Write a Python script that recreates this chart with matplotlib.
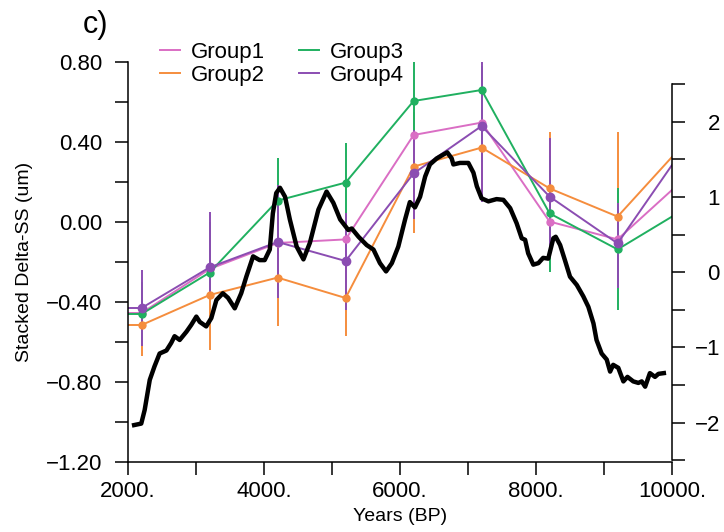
import numpy as np
import matplotlib.pyplot as plt
from matplotlib.ticker import MultipleLocator, FuncFormatter
from matplotlib.lines import Line2D

plt.rcParams['font.family'] = ['Liberation Sans', 'DejaVu Sans']

# group stacks, left axis (um); first and last points lie just outside the x range
grp_years = [1200, 2200, 3200, 4200, 5200, 6200, 7200, 8200, 9200, 10200]
group1 = [-0.455, -0.455, -0.235, -0.105, -0.087, 0.435, 0.497, 0.002, -0.087, 0.222]
group2 = [-0.515, -0.515, -0.365, -0.278, -0.380, 0.277, 0.372, 0.168, 0.027, 0.400]
group3 = [-0.460, -0.460, -0.253, 0.107, 0.197, 0.605, 0.660, 0.043, -0.137, 0.068]
group4 = [-0.430, -0.430, -0.227, -0.100, -0.195, 0.243, 0.480, 0.127, -0.107, 0.383]

# lower / upper ends of the bars
group1_lo = [-0.455, -0.60, -0.36, -0.30, -0.30, 0.10, 0.20, -0.10, -0.25, 0.222]
group1_hi = [-0.455, -0.30, 0.00, 0.10, 0.00, 0.45, 0.75, 0.30, 0.05, 0.222]
group2_lo = [-0.515, -0.67, -0.64, -0.52, -0.57, -0.055, 0.15, -0.10, -0.30, 0.400]
group2_hi = [-0.515, -0.36, -0.09, -0.04, -0.19, 0.55, 0.60, 0.45, 0.45, 0.400]
group3_lo = [-0.460, -0.60, -0.36, -0.10, 0.00, 0.42, 0.30, -0.25, -0.44, 0.068]
group3_hi = [-0.460, -0.30, 0.00, 0.318, 0.393, 0.83, 0.78, 0.33, 0.17, 0.068]
group4_lo = [-0.430, -0.62, -0.37, -0.38, -0.44, 0.017, 0.10, -0.17, -0.33, 0.383]
group4_hi = [-0.430, -0.24, 0.05, 0.185, 0.045, 0.46, 0.86, 0.418, 0.095, 0.383]

# black record, right axis
rec_years = [2090, 2195, 2245, 2320, 2390, 2465, 2565, 2635, 2685, 2760, 2860, 2930,
             3005, 3055, 3150, 3225, 3300, 3395, 3470, 3570, 3665, 3740, 3840, 3935,
             4010, 4085, 4130, 4180, 4235, 4310, 4380, 4480, 4580, 4675, 4800, 4920,
             5020, 5120, 5240, 5290, 5390, 5510, 5610, 5705, 5795, 5880, 5975, 6075,
             6145, 6220, 6295, 6370, 6440, 6540, 6635, 6695, 6760, 6785, 6880, 7005,
             7080, 7130, 7200, 7300, 7420, 7520, 7620, 7715, 7790, 7840, 7885, 7960,
             8035, 8105, 8180, 8255, 8290, 8355, 8425, 8500, 8600, 8695, 8770, 8845,
             8890, 8965, 9040, 9090, 9135, 9210, 9285, 9345, 9430, 9505, 9555, 9605,
             9675, 9750, 9800, 9880]
rec_vals = [-2.03, -2.01, -1.83, -1.43, -1.25, -1.08, -1.04, -0.94, -0.85, -0.90, -0.79, -0.70,
            -0.59, -0.66, -0.72, -0.61, -0.37, -0.28, -0.34, -0.48, -0.28, -0.06, 0.21, 0.16,
            0.16, 0.30, 0.78, 1.05, 1.12, 1.00, 0.70, 0.34, 0.17, 0.39, 0.83, 1.07,
            0.92, 0.70, 0.56, 0.58, 0.47, 0.36, 0.30, 0.12, 0.01, 0.12, 0.34, 0.70,
            0.93, 0.86, 1.00, 1.27, 1.43, 1.51, 1.56, 1.59, 1.51, 1.43, 1.45, 1.45,
            1.32, 1.14, 0.98, 0.94, 0.97, 0.96, 0.85, 0.65, 0.45, 0.43, 0.25, 0.10,
            0.12, 0.19, 0.18, 0.45, 0.47, 0.36, 0.16, -0.06, -0.17, -0.32, -0.46, -0.68,
            -0.90, -1.08, -1.16, -1.32, -1.23, -1.27, -1.45, -1.39, -1.45, -1.47, -1.45, -1.52,
            -1.34, -1.39, -1.35, -1.34]

names = ['Group1', 'Group2', 'Group3', 'Group4']
colors = ['#DA6EC4', '#F58D3D', '#20B060', '#8B4DB2']
vals = [group1, group2, group3, group4]
los = [group1_lo, group2_lo, group3_lo, group4_lo]
his = [group1_hi, group2_hi, group3_hi, group4_hi]

fig = plt.figure(figsize=(7.24, 5.32), dpi=100)
ax = fig.add_axes([128/724, 1-462/532, 544/724, 400/532])

handles = []
for name, c, v, lo, hi in zip(names, colors, vals, los, his):
    v = np.array(v)
    yerr = [v - np.array(lo), np.array(hi) - v]
    ax.errorbar(grp_years, v, yerr=yerr, color=c, lw=1.4, elinewidth=1.4,
                marker='o', ms=5 if name != 'Group4' else 6, capsize=0)
    handles.append(Line2D([], [], color=c, lw=1.4, label=name))

ax.set_xlim(2000, 10000)
ax.set_ylim(-1.2, 0.8)
ax.xaxis.set_major_locator(MultipleLocator(2000))
ax.xaxis.set_minor_locator(MultipleLocator(1000))
ax.yaxis.set_major_locator(MultipleLocator(0.4))
ax.yaxis.set_minor_locator(MultipleLocator(0.2))
ax.xaxis.set_major_formatter(FuncFormatter(lambda x, p: f"{x:.0f}."))
ax.yaxis.set_major_formatter(FuncFormatter(
    lambda y, p: "0.00" if abs(y) < 1e-9 else f"{y:.2f}".replace('-', '\u2212')))
ax.tick_params(which='both', direction='out', length=9.5, width=1.1, labelsize=16)
ax.tick_params(axis='y', which='both', pad=9)
ax.tick_params(axis='x', which='both', pad=4)
ax.spines['top'].set_visible(False)
ax.spines['right'].set_visible(False)
for s in ['left', 'bottom']:
    ax.spines[s].set_linewidth(1.1)

ax.set_ylabel('Stacked Delta-SS (um)', fontsize=14)
ax.yaxis.set_label_coords(-0.175, 0.5)
ax.set_xlabel('Years (BP)', fontsize=14)
ax.xaxis.set_label_coords(0.5, -0.115)

ax.legend(handles=handles, ncol=2, frameon=False, fontsize=16, loc='upper left',
          bbox_to_anchor=(160/724, 1-42/532), bbox_transform=fig.transFigure,
          handlelength=0.9, handletextpad=0.5, columnspacing=1.5,
          labelspacing=0.1, borderpad=0, borderaxespad=0)

ax2 = ax.twinx()
ax2.plot(rec_years, rec_vals, color='black', lw=3.2, solid_joinstyle='round')
ax2.set_ylim(-2.52, 2.79)
ax2.set_yticks([-2, -1, 0, 1, 2], ['\u22122', '\u22121', '0', '1', '2'], ha='right')
ax2.set_yticks([-2.5, -1.5, -0.5, 0.5, 1.5, 2.5], minor=True)
ax2.tick_params(which='both', direction='out', length=9.5, width=1.1, labelsize=16, pad=25)
ax2.spines['right'].set_bounds(-2.5, 2.5)
ax2.spines['right'].set_linewidth(1.1)
for s in ['top', 'left', 'bottom']:
    ax2.spines[s].set_visible(False)

fig.text(95/724, 1-25/532, 'c)', fontsize=22, ha='center', va='center')

fig.savefig('out.png', dpi=100)
